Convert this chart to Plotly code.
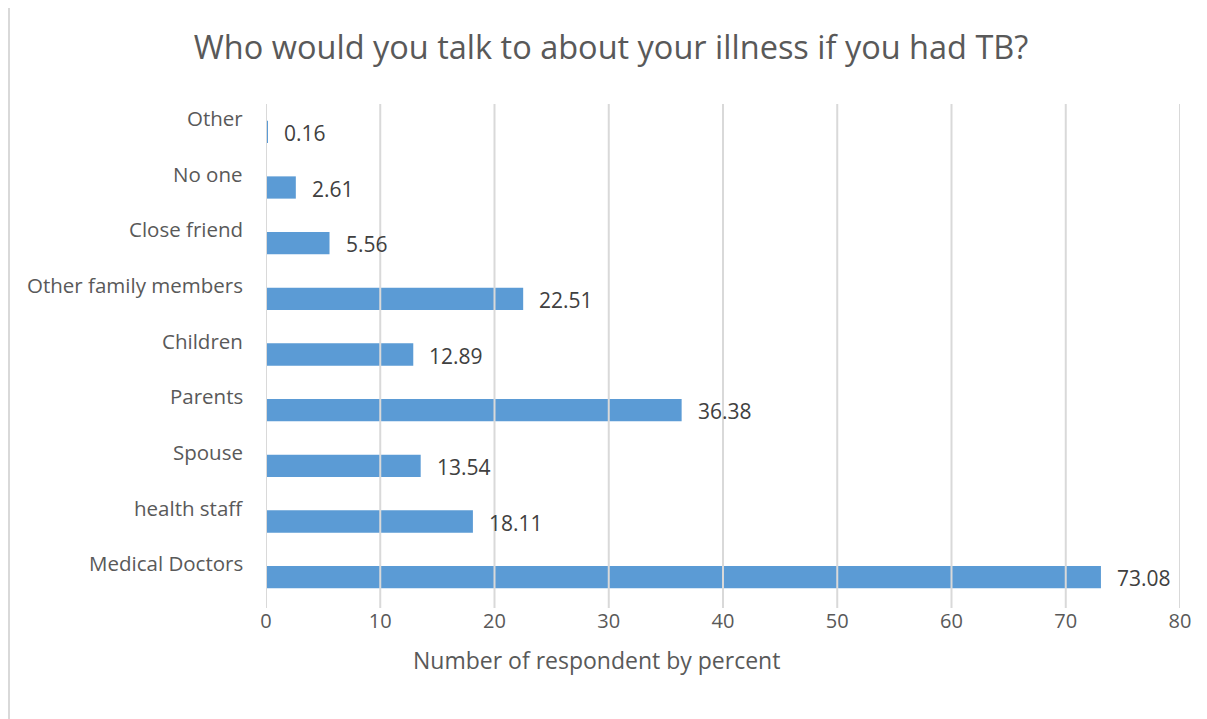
import plotly.graph_objects as go

categories = ["Medical Doctors", "health staff", "Spouse", "Parents", "Children",
              "Other family members", "Close friend", "No one", "Other"]
values = [73.08, 18.11, 13.54, 36.38, 12.89, 22.51, 5.56, 2.61, 0.16]
x_ticks = [0, 10, 20, 30, 40, 50, 60, 70, 80]

FONT = "Open Sans"
TXT = "#595959"
GRID = "#D9D9D9"
BAR = "#5B9BD5"

fig = go.Figure()
fig.add_trace(go.Bar(
    x=values, y=categories, orientation="h",
    marker=dict(color=BAR, line=dict(width=0)),
    hoverinfo="skip",
))

annotations = []
# data labels
for c, v in zip(categories, values):
    annotations.append(dict(x=v, y=c, xref="x", yref="y", text=f"{v:.2f}",
                            showarrow=False, xanchor="left", yanchor="middle",
                            xshift=14, yshift=-1,
                            font=dict(family=FONT, size=21, color="#404040")))
# category labels (offset upward as in reference)
for c in categories:
    annotations.append(dict(x=0, y=c, xref="paper", yref="y", text=c,
                            showarrow=False, xanchor="right", yanchor="middle",
                            xshift=-21, yshift=14,
                            font=dict(family=FONT, size=20.5, color=TXT)))
# x axis title
annotations.append(dict(x=0.362, y=-0.11, xref="paper", yref="paper",
                        text="Number of respondent by percent", showarrow=False,
                        xanchor="center", yanchor="middle",
                        font=dict(family=FONT, size=23, color=TXT)))

shapes = []
for t in x_ticks:
    shapes.append(dict(type="line", xref="x", yref="paper", x0=t, x1=t,
                       y0=-0.006, y1=1, line=dict(color=GRID, width=2), layer="above"))
shapes.append(dict(type="line", xref="paper", yref="paper", x0=-0.2812, x1=-0.2812,
                   y0=-0.23, y1=1.2, line=dict(color=GRID, width=2)))

fig.update_layout(
    width=1199, height=711,
    margin=dict(l=258, r=27, t=96, b=114),
    paper_bgcolor="white", plot_bgcolor="white",
    bargap=0.6,
    showlegend=False,
    title=dict(text="Who would you talk to about your illness if you had TB?",
               x=0.503, xanchor="center", y=0.944, yanchor="middle",
               font=dict(family=FONT, size=32.5, color=TXT)),
    xaxis=dict(range=[0, 80], tickvals=x_ticks, showgrid=False, zeroline=False,
               showline=False, ticks="", tickfont=dict(family=FONT, size=20, color=TXT),
               ticklabelstandoff=2, fixedrange=True),
    yaxis=dict(categoryorder="array", categoryarray=categories, showticklabels=False,
               showgrid=False, zeroline=False, showline=False, ticks="",
               range=[-0.5, len(categories) - 0.5]),
    annotations=annotations,
    shapes=shapes,
)

fig.write_html("out.html")
